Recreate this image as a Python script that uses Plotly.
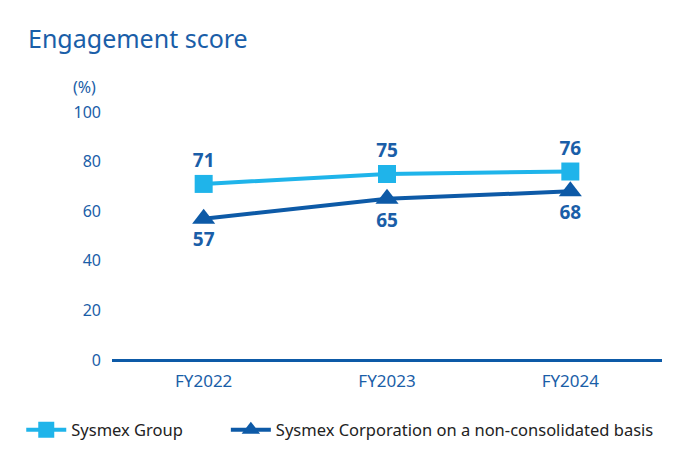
import plotly.graph_objects as go

categories = ["FY2022", "FY2023", "FY2024"]
group_values = [71, 75, 76]
nonconsol_values = [57, 65, 68]
y_ticks = [0, 20, 40, 60, 80, 100]

LIGHT = "#1fb4ea"
DARK = "#0d5aa7"
TEXTBLUE = "#1a5ea8"
FONT = "Noto Sans"

fig = go.Figure()
fig.add_trace(go.Scatter(
    x=categories, y=group_values, name="Sysmex Group",
    mode="lines+markers+text",
    line=dict(color=LIGHT, width=4),
    marker=dict(symbol="square", size=18, color=LIGHT),
    text=[str(v) for v in group_values], textposition="top center",
    textfont=dict(family=FONT, size=19, color=TEXTBLUE, weight="bold"),
    legend="legend",
))
fig.add_trace(go.Scatter(
    x=categories, y=nonconsol_values, name="Sysmex Corporation on a non-consolidated basis",
    mode="lines+markers+text",
    line=dict(color=DARK, width=4),
    marker=dict(symbol="triangle-up", size=20, color=DARK),
    text=[str(v) for v in nonconsol_values], textposition="bottom center",
    textfont=dict(family=FONT, size=19, color=TEXTBLUE, weight="bold"),
    legend="legend2",
))

legend_common = dict(orientation="h", xref="paper", y=-0.282, yanchor="middle",
                     xanchor="left", font=dict(size=16.5, color="#222222"),
                     itemwidth=40, bgcolor="rgba(0,0,0,0)")

fig.update_layout(
    width=690, height=470,
    margin=dict(l=112, r=28, t=112, b=110),
    paper_bgcolor="white", plot_bgcolor="white",
    font=dict(family=FONT, color=TEXTBLUE),
    showlegend=True,
    legend=dict(x=-0.165, **legend_common),
    legend2=dict(x=0.207, **legend_common),
    xaxis=dict(type="category", range=[-0.5, 2.5], showgrid=False, zeroline=False,
               showline=False, ticks="", tickfont=dict(size=17, color=TEXTBLUE),
               ticklabelstandoff=9),
    yaxis=dict(range=[0, 100], tickvals=y_ticks, showgrid=False, zeroline=True,
               zerolinecolor=DARK, zerolinewidth=3, showline=False, ticks="",
               tickfont=dict(size=16, color=TEXTBLUE), ticklabelstandoff=10),
    annotations=[
        dict(text="Engagement score", xref="paper", yref="paper", x=-0.157, y=1.298,
             xanchor="left", yanchor="middle", showarrow=False,
             font=dict(size=25, color=TEXTBLUE, family=FONT)),
        dict(text="(%)", xref="paper", yref="paper", x=-0.05, y=1.10,
             xanchor="center", yanchor="middle", showarrow=False,
             font=dict(size=16, color=TEXTBLUE, family=FONT)),
    ],
)

fig.write_html("out.html")
